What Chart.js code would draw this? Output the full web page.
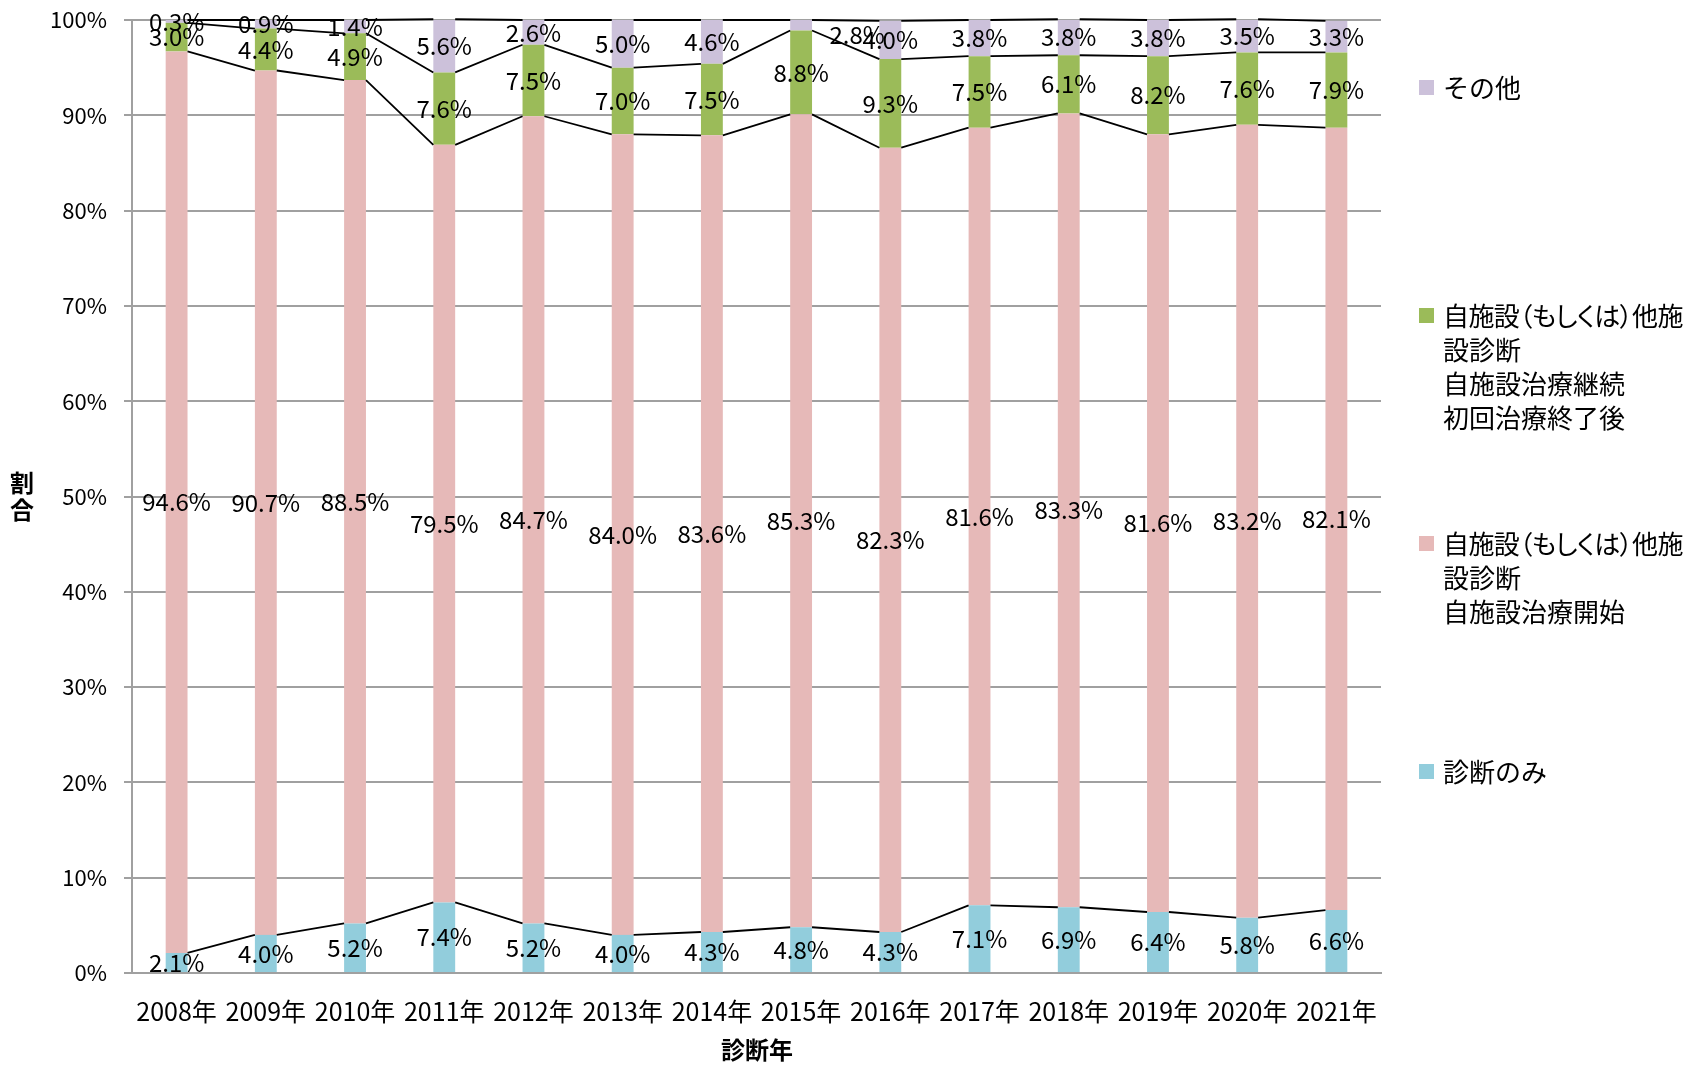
<!DOCTYPE html>
<html>
<head>
<meta charset="utf-8">
<script src="https://cdn.jsdelivr.net/npm/chart.js@4.4.1/dist/chart.umd.min.js"></script>
<style>
  body { margin: 0; background: #fff; font-family: 'Noto Sans CJK JP', sans-serif; color: #000; }
  #wrap { position: relative; width: 1688px; height: 1065px; }
  #chart { position: absolute; left: 0; top: 0; }
  .ttl { position: absolute; font-weight: bold; font-size: 24px; }
  #ytitle { left: 9px; top: 468px; width: 26px; line-height: 27px; text-align: center; }
  #xtitle { left: 657px; width: 200px; top: 1033px; text-align: center; line-height: 32px; }
  .leg { position: absolute; left: 1419px; font-size: 26px; line-height: 34px; white-space: nowrap; }
  .leg i { position: absolute; left: 0; top: 10px; width: 15px; height: 15px; }
  .leg div { margin-left: 24px; }
  .leg div.p { font-feature-settings: "palt"; letter-spacing: -0.6px; }
</style>
</head>
<body>
<div id="wrap">
  <canvas id="chart" width="1688" height="1065"></canvas>
  <div class="ttl" id="ytitle">割<br>合</div>
  <div class="ttl" id="xtitle">診断年</div>
</div>
<script>
const years = ['2008年', '2009年', '2010年', '2011年', '2012年', '2013年', '2014年',
  '2015年', '2016年', '2017年', '2018年', '2019年', '2020年', '2021年'];

// bottom to top
const diagOnly = [2.1, 4.0, 5.2, 7.4, 5.2, 4.0, 4.3, 4.8, 4.3, 7.1, 6.9, 6.4, 5.8, 6.6];
const ownStart = [94.6, 90.7, 88.5, 79.5, 84.7, 84.0, 83.6, 85.3, 82.3, 81.6, 83.3, 81.6, 83.2, 82.1];
const ownContinue = [3.0, 4.4, 4.9, 7.6, 7.5, 7.0, 7.5, 8.8, 9.3, 7.5, 6.1, 8.2, 7.6, 7.9];
const others = [0.3, 0.9, 1.4, 5.6, 2.6, 5.0, 4.6, 1.1, 4.0, 3.8, 3.8, 3.8, 3.5, 3.3];

// the 2015 "other" label in the source reads 2.8% and sits off to the right
const otherLabelText = { 7: '2.8%' };

const seriesNames = [
  ['診断のみ'],
  ['自施設（もしくは）他施', '設診断', '自施設治療開始'],
  ['自施設（もしくは）他施', '設診断', '自施設治療継続', '初回治療終了後'],
  ['その他']
];
const colors = ['#92cddc', '#e6b9b8', '#9bbb59', '#ccc1da'];
const legendTop = [754, 526, 298, 70];

const FONT = "'Noto Sans CJK JP', sans-serif";

// legend (drawn as html, multi-line entries)
const wrap = document.getElementById('wrap');
seriesNames.forEach((lines, k) => {
  const el = document.createElement('div');
  el.className = 'leg';
  el.style.top = legendTop[k] + 'px';
  el.innerHTML = `<i style="background:${colors[k]}"></i>` +
    lines.map(t => `<div${/（/.test(t) ? ' class="p"' : ''}>${t}</div>`).join('');
  wrap.appendChild(el);
});

// Excel style series lines between neighbouring bars
const seriesLines = {
  id: 'seriesLines',
  afterDatasetsDraw(chart) {
    const ctx = chart.ctx;
    ctx.save();
    ctx.strokeStyle = '#000';
    ctx.lineWidth = 1.8;
    chart.data.datasets.forEach((ds, d) => {
      const bars = chart.getDatasetMeta(d).data;
      ctx.beginPath();
      for (let i = 0; i < bars.length - 1; i++) {
        const a = bars[i], b = bars[i + 1];
        ctx.moveTo(a.x + a.width / 2, a.y);
        ctx.lineTo(b.x - b.width / 2, b.y);
      }
      ctx.stroke();
    });
    ctx.restore();
  }
};

const barLabels = {
  id: 'barLabels',
  afterDatasetsDraw(chart) {
    const ctx = chart.ctx;
    ctx.save();
    ctx.fillStyle = '#000';
    ctx.font = '24px ' + FONT;
    ctx.textAlign = 'center';
    ctx.textBaseline = 'middle';
    chart.data.datasets.forEach((ds, d) => {
      chart.getDatasetMeta(d).data.forEach((bar, i) => {
        let txt = ds.data[i].toFixed(1) + '%';
        let x = bar.x, y = (bar.y + bar.base) / 2;
        if (d === 3 && otherLabelText[i]) {
          txt = otherLabelText[i];
          x += 56;
          y += 10;
        }
        ctx.fillText(txt, x, y);
      });
    });
    ctx.restore();
  }
};

const series = [diagOnly, ownStart, ownContinue, others];

new Chart(document.getElementById('chart'), {
  type: 'bar',
  data: {
    labels: years,
    datasets: series.map((vals, k) => ({
      label: seriesNames[k].join(''),
      data: vals,
      backgroundColor: colors[k],
      categoryPercentage: 1,
      barPercentage: 0.245
    }))
  },
  options: {
    responsive: false,
    animation: false,
    layout: { padding: { top: 20, right: 307, left: 0, bottom: 0 } },
    plugins: { legend: { display: false }, tooltip: { enabled: false } },
    scales: {
      x: {
        stacked: true,
        grid: { display: false, drawTicks: false },
        border: { color: '#a0a0a0', width: 2 },
        ticks: { color: '#000', font: { family: FONT, size: 25 }, padding: 23, maxRotation: 0 },
        afterFit(s) { s.height = 92; s.paddingLeft = 0; s.paddingRight = 0; }
      },
      y: {
        stacked: true,
        min: 0,
        max: 100,
        ticks: { stepSize: 10, color: '#000', font: { family: FONT, size: 22 }, padding: 17,
          callback: v => v + '%' },
        grid: { color: '#a0a0a0', lineWidth: 2, tickLength: 8 },
        border: { color: '#a0a0a0', width: 2 },
        afterFit(s) { s.width = 132; s.paddingTop = 0; s.paddingBottom = 0; }
      }
    }
  },
  plugins: [seriesLines, barLabels]
});
</script>
</body>
</html>
